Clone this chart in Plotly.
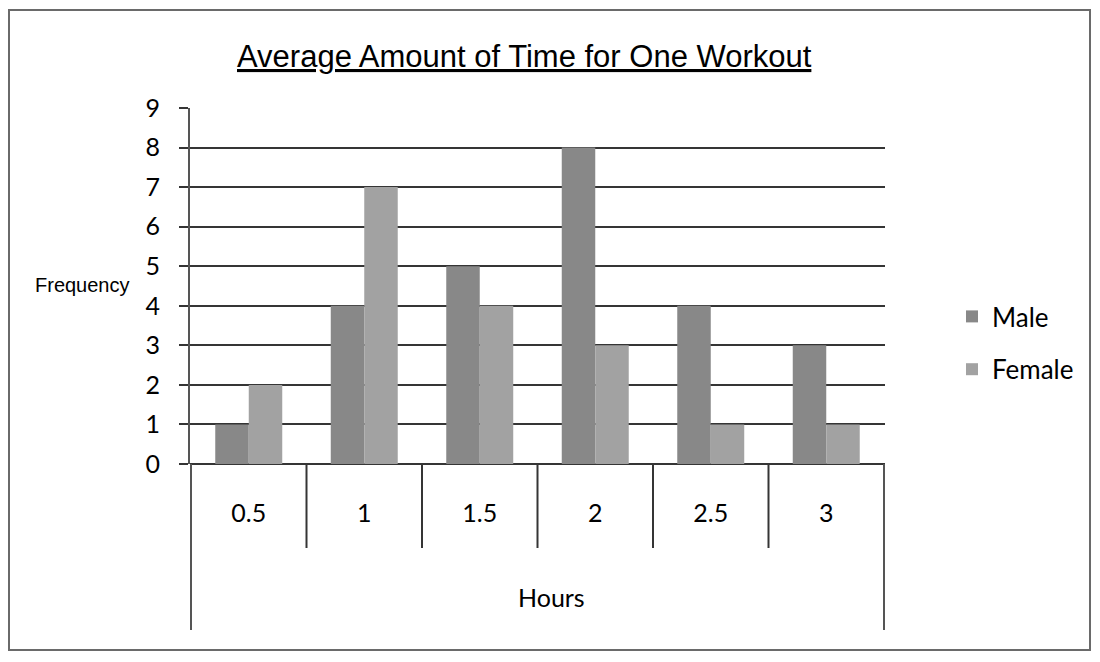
import plotly.graph_objects as go

hours = ['0.5', '1', '1.5', '2', '2.5', '3']
male = [1, 4, 5, 8, 4, 3]
female = [2, 7, 4, 3, 1, 1]

# page sits 8px in from the window corner (body margin)
OFF = 8
FW, FH = 1100 - OFF, 662 - OFF
# plot area in window pixels
L, R, T, B = 190, 885, 108, 464
W, H = R - L, B - T


def px(x):
    return (x - L) / W


def py(y):
    return (B - y) / H


fig = go.Figure()
fig.add_trace(go.Bar(x=hours, y=male, name='Male', marker_color='#888888',
                     marker_line_width=0, legendgroup='m'))
fig.add_trace(go.Bar(x=hours, y=female, name='Female', marker_color='#a2a2a2',
                     marker_line_width=0, legendgroup='f'))

line_col = '#353535'
shapes = []
# category dividers below the axis
for i in range(1, len(hours)):
    shapes.append(dict(type='line', xref='x', yref='paper', x0=i - 0.5, x1=i - 0.5,
                       y0=0, y1=py(548), line=dict(color=line_col, width=2)))
# left/right frame lines under the axis
for xx in (-0.5, len(hours) - 0.5):
    shapes.append(dict(type='line', xref='x', yref='paper', x0=xx, x1=xx,
                       y0=0, y1=py(630), line=dict(color='#555555', width=2)))
# outer chart border
shapes.append(dict(type='rect', xref='paper', yref='paper', x0=px(9), x1=px(1090),
                   y0=py(650), y1=py(10), line=dict(color='#6a6a6a', width=2),
                   layer='below'))

fig.update_layout(
    width=FW, height=FH,
    margin=dict(l=L - OFF, r=FW - (R - OFF), t=T - OFF, b=FH - (B - OFF)),
    paper_bgcolor='white', plot_bgcolor='white',
    barmode='group', bargap=0.42, bargroupgap=0,
    shapes=shapes,
    font=dict(family='Lato, Liberation Sans, sans-serif', color='black'),
    legend=dict(x=px(952), y=py(343), xanchor='left', yanchor='middle',
                font=dict(size=26), tracegroupgap=16, traceorder='grouped',
                itemwidth=30, bgcolor='rgba(0,0,0,0)'),
    annotations=[
        dict(text='<u>Average Amount of Time for One Workout</u>', xref='paper', yref='paper',
             x=px(524), y=py(56), xanchor='center', yanchor='middle', showarrow=False,
             font=dict(family='Liberation Sans, Arial', size=31)),
        dict(text='Frequency', xref='paper', yref='paper', x=px(82), y=py(285),
             xanchor='center', yanchor='middle', showarrow=False,
             font=dict(family='Liberation Sans, Arial', size=20)),
        dict(text='Hours', xref='paper', yref='paper', x=px(551), y=py(597),
             xanchor='center', yanchor='middle', showarrow=False, font=dict(size=25)),
    ],
)

fig.update_xaxes(type='category', showgrid=False, showline=False, ticks='',
                 tickfont=dict(size=25), ticklabelstandoff=32, automargin=False)
fig.update_yaxes(range=[0, 9], dtick=1, showgrid=True, gridcolor=line_col, gridwidth=2,
                 showline=True, linecolor='#555555', linewidth=2,
                 ticks='outside', ticklen=9, tickwidth=2, tickcolor=line_col,
                 tickfont=dict(size=25), ticklabelstandoff=14, automargin=False,
                 zeroline=True, zerolinecolor=line_col, zerolinewidth=2)

fig.write_html("out.html")
